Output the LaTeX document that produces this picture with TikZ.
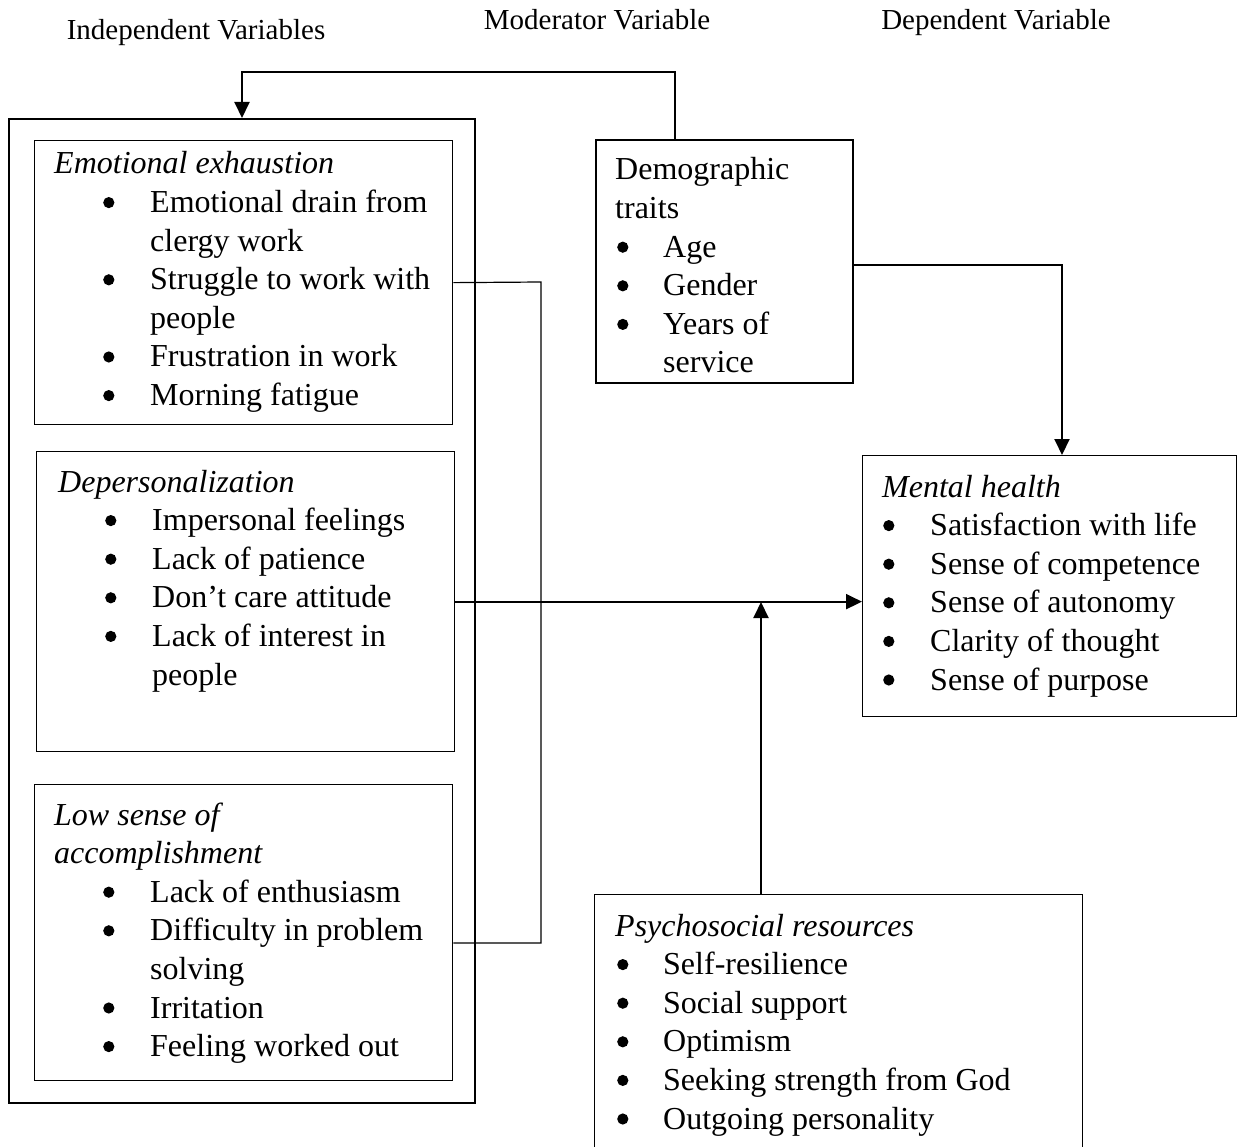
\documentclass[tikz,border=0pt]{standalone}
\usepackage{fontspec}
\setmainfont{Liberation Serif}
\usetikzlibrary{arrows.meta}
\newcommand{\bodyfont}{\fontsize{32}{38.6}\selectfont}
\newcommand{\headfont}{\fontsize{29}{34}\selectfont}
\newcommand{\ttl}[1]{\multicolumn{2}{@{}l@{}}{\itshape #1}}
\newcommand{\ttlup}[1]{\multicolumn{2}{@{}l@{}}{#1}}
\newcommand{\bul}{\tikz[baseline=-10pt,x=1pt,y=1pt]\fill (0,0) circle[radius=5.6pt];}
\begin{document}
\begin{tikzpicture}[x=1pt,y=-1pt,
  box/.style={draw, line width=1.3pt, inner sep=0pt, anchor=north west},
  thickbox/.style={draw, line width=2pt, inner sep=0pt, anchor=north west},
  txt/.style={inner sep=0pt, anchor=base west, font=\bodyfont},
  head/.style={inner sep=0pt, anchor=base, font=\headfont},
  arr/.style={line width=2pt, -{Triangle[length=16pt,width=15pt]}},
  link/.style={line width=1.2pt}]
\clip (0,0) rectangle (1237,1147);
% headers
\node[head] (hind) at (196,40) {Independent Variables};
\node[head] (hmod) at (597,30) {Moderator Variable};
\node[head] (hdep) at (996,30) {Dependent Variable};
% boxes
\node[thickbox, minimum width=466pt, minimum height=984pt] (outer) at (8,118) {};
\node[box, minimum width=418pt, minimum height=284pt] (ee) at (34,140) {};
\node[box, minimum width=418pt, minimum height=300pt] (dp) at (36,451) {};
\node[box, minimum width=418pt, minimum height=296pt] (ls) at (34,784) {};
\node[thickbox, minimum width=257pt, minimum height=243pt] (dem) at (595,139) {};
\node[box, minimum width=374pt, minimum height=261pt] (mh) at (862,455) {};
\node[box, minimum width=488pt, minimum height=300pt] (ps) at (594,894) {};
% texts
\node[txt] (eet) at (54,174) {\begin{tabular}[t]{@{\hspace{49pt}}p{47pt}@{}l@{}}
\ttl{Emotional exhaustion}\\
\bul & Emotional drain from\\
 & clergy work\\
\bul & Struggle to work with\\
 & people\\
\bul & Frustration in work\\
\bul & Morning fatigue
\end{tabular}};
\node[txt] (dpt) at (58,492) {\begin{tabular}[t]{@{\hspace{47pt}}p{47pt}@{}l@{}}
\ttl{Depersonalization}\\
\bul & Impersonal feelings\\
\bul & Lack of patience\\
\bul & Don’t care attitude\\
\bul & Lack of interest in\\
 & people
\end{tabular}};
\node[txt] (lst) at (54,825) {\begin{tabular}[t]{@{\hspace{49pt}}p{47pt}@{}l@{}}
\ttl{Low sense of}\\
\ttl{accomplishment}\\
\bul & Lack of enthusiasm\\
\bul & Difficulty in problem\\
 & solving\\
\bul & Irritation\\
\bul & Feeling worked out
\end{tabular}};
\node[txt] (demt) at (615,180) {\begin{tabular}[t]{@{\hspace{2pt}}p{46pt}@{}l@{}}
\ttlup{Demographic}\\
\ttlup{traits}\\
\bul & Age\\
\bul & Gender\\
\bul & Years of\\
 & service
\end{tabular}};
\node[txt] (mht) at (882,497) {\begin{tabular}[t]{@{\hspace{1pt}}p{47pt}@{}l@{}}
\ttl{Mental health}\\
\bul & Satisfaction with life\\
\bul & Sense of competence\\
\bul & Sense of autonomy\\
\bul & Clarity of thought\\
\bul & Sense of purpose
\end{tabular}};
\node[txt] (pst) at (615,936) {\begin{tabular}[t]{@{\hspace{2pt}}p{46pt}@{}l@{}}
\ttl{Psychosocial resources}\\
\bul & Self-resilience\\
\bul & Social support\\
\bul & Optimism\\
\bul & Seeking strength from God\\
\bul & Outgoing personality
\end{tabular}};
% connectors
\coordinate (topturn) at (675,72);
\coordinate (junction) at (761,602);
\draw[arr] (dem.north -| topturn) -- (topturn) -| (outer.north);
\draw[link] (ee.east) -- (541,282) |- (ls.east |- 0,943);
\draw[arr] (dp.east) -- (dp.east -| mh.west);
\draw[arr] (ps.north -| junction) -- (junction);
\draw[arr] (dem.east |- 0,265) -| (mh.north -| 1062,0);
\end{tikzpicture}
\end{document}
